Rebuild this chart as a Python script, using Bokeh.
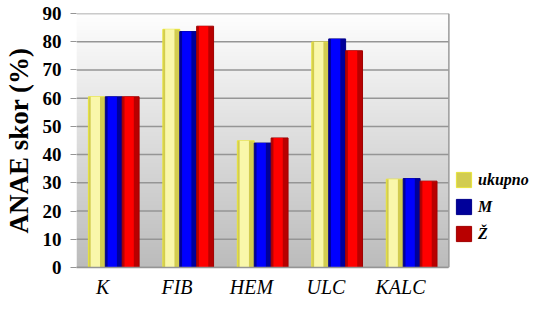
import numpy as np
from bokeh.plotting import figure
from bokeh.models import Range1d, FixedTicker, Legend, LegendItem, ColumnDataSource
from bokeh.transform import dodge
from bokeh.embed import file_html
from bokeh.resources import INLINE

categories = ["K", "FIB", "HEM", "ULC", "KALC"]
ukupno = [60.5, 84.4, 44.9, 79.9, 31.3]
muski = [60.5, 83.6, 44.1, 81.0, 31.5]
zenski = [60.5, 85.5, 45.9, 76.8, 30.6]
series_names = ["ukupno", "M", "Ž"]
y_ticks = [0, 10, 20, 30, 40, 50, 60, 70, 80, 90]

ncat = len(categories)
xs = [i + 0.5 for i in range(ncat)]
src = ColumnDataSource(data=dict(x=xs, u=ukupno, m=muski, z=zenski))

# frame extends to the right edge so the legend can sit inside it
FRAME_W = 536 - 74
x_end = FRAME_W / 74.8

p = figure(width=536, height=300, output_backend="svg", toolbar_location=None,
           x_range=Range1d(0, x_end), y_range=Range1d(0, 90),
           min_border_left=74, min_border_right=0, min_border_top=13, min_border_bottom=20)
p.background_fill_color = "white"
p.border_fill_color = "white"
p.outline_line_color = None

# gradient background of plot area
n = 200
t = np.linspace(0, 1, n)  # 0 bottom, 1 top
g = (188 + (254 - 188) * t).astype(np.uint32)
img = np.empty((n, 1), dtype=np.uint32)
view = img.view(dtype=np.uint8).reshape((n, 1, 4))
view[:, 0, 0] = g
view[:, 0, 1] = g
view[:, 0, 2] = g
view[:, 0, 3] = 255
p.image_rgba(image=[img], x=0, y=0, dw=ncat, dh=90, level="image")

# gridlines limited to the plot area (0..ncat)
p.xgrid.visible = False
p.ygrid.visible = False
p.segment(x0=[0] * len(y_ticks), x1=[ncat] * len(y_ticks), y0=y_ticks, y1=y_ticks,
          line_color="#959595", line_width=1.5, level="underlay")
p.segment(x0=[ncat], x1=[ncat], y0=[y_ticks[0]], y1=[y_ticks[-1]],
          line_color="#9a9a9a", line_width=1.5, level="underlay")

bw = 0.227
off = 0.227
styles = [
    ("u", -off, "#d2cc50", "#f9f7aa", "#e8e43a"),
    ("m", 0.0, "#00009a", "#0000ff", "#00008a"),
    ("z", off, "#b80000", "#ff0000", "#a00000"),
]
base_renderers = []
for col, o, dark, light, edge in styles:
    r = p.vbar(x=dodge("x", o, range=p.x_range), top=col, width=bw, bottom=0, source=src,
               fill_color=dark, line_color=edge, line_width=1)
    p.vbar(x=dodge("x", o - 0.02, range=p.x_range), top=col, width=bw * 0.55, bottom=0, source=src,
           fill_color=light, line_color=None)
    base_renderers.append(r)

items = []
for name, r in zip(series_names, base_renderers):
    items.append(LegendItem(label=name, renderers=[r]))
legend = Legend(items=items, location=(378, 24), orientation="vertical",
                glyph_width=19, glyph_height=19, label_height=19, spacing=8,
                padding=0, margin=0, border_line_color=None, background_fill_alpha=0,
                label_text_font="Liberation Serif", label_text_font_style="bold italic",
                label_text_font_size="16px", label_standoff=5, label_text_color="black")
p.add_layout(legend, "center")

# y axis
p.yaxis.ticker = FixedTicker(ticks=y_ticks)
p.yaxis.axis_label = "ANAE skor (%)"
p.yaxis.axis_label_text_font = "Liberation Serif"
p.yaxis.axis_label_text_font_style = "bold"
p.yaxis.axis_label_text_font_size = "27px"
p.yaxis.axis_label_text_color = "black"
p.yaxis.axis_label_standoff = 6
p.yaxis.major_label_text_font = "Liberation Serif"
p.yaxis.major_label_text_font_style = "bold"
p.yaxis.major_label_text_font_size = "19px"
p.yaxis.major_label_text_color = "black"
p.yaxis.major_label_standoff = 9
p.yaxis.major_tick_out = 6
p.yaxis.major_tick_in = 0
p.yaxis.minor_tick_line_color = None
p.yaxis.major_tick_line_color = "#959595"
p.yaxis.axis_line_color = None

# x axis (labels slightly left of group centres, as in the original)
p.xaxis.ticker = FixedTicker(ticks=[x - 0.15 for x in xs])
p.xaxis.major_label_overrides = {x - 0.15: c for x, c in zip(xs, categories)}
p.xaxis.bounds = (0, ncat)
p.xaxis.major_label_text_font = "Liberation Serif"
p.xaxis.major_label_text_font_style = "italic"
p.xaxis.major_label_text_font_size = "20px"
p.xaxis.major_label_text_color = "black"
p.xaxis.major_label_standoff = 2
p.xaxis.major_tick_line_color = None
p.xaxis.minor_tick_line_color = None
p.xaxis.axis_line_color = "#959595"
p.xaxis.axis_line_width = 1.5

open("out.html", "w").write(file_html(p, INLINE))
